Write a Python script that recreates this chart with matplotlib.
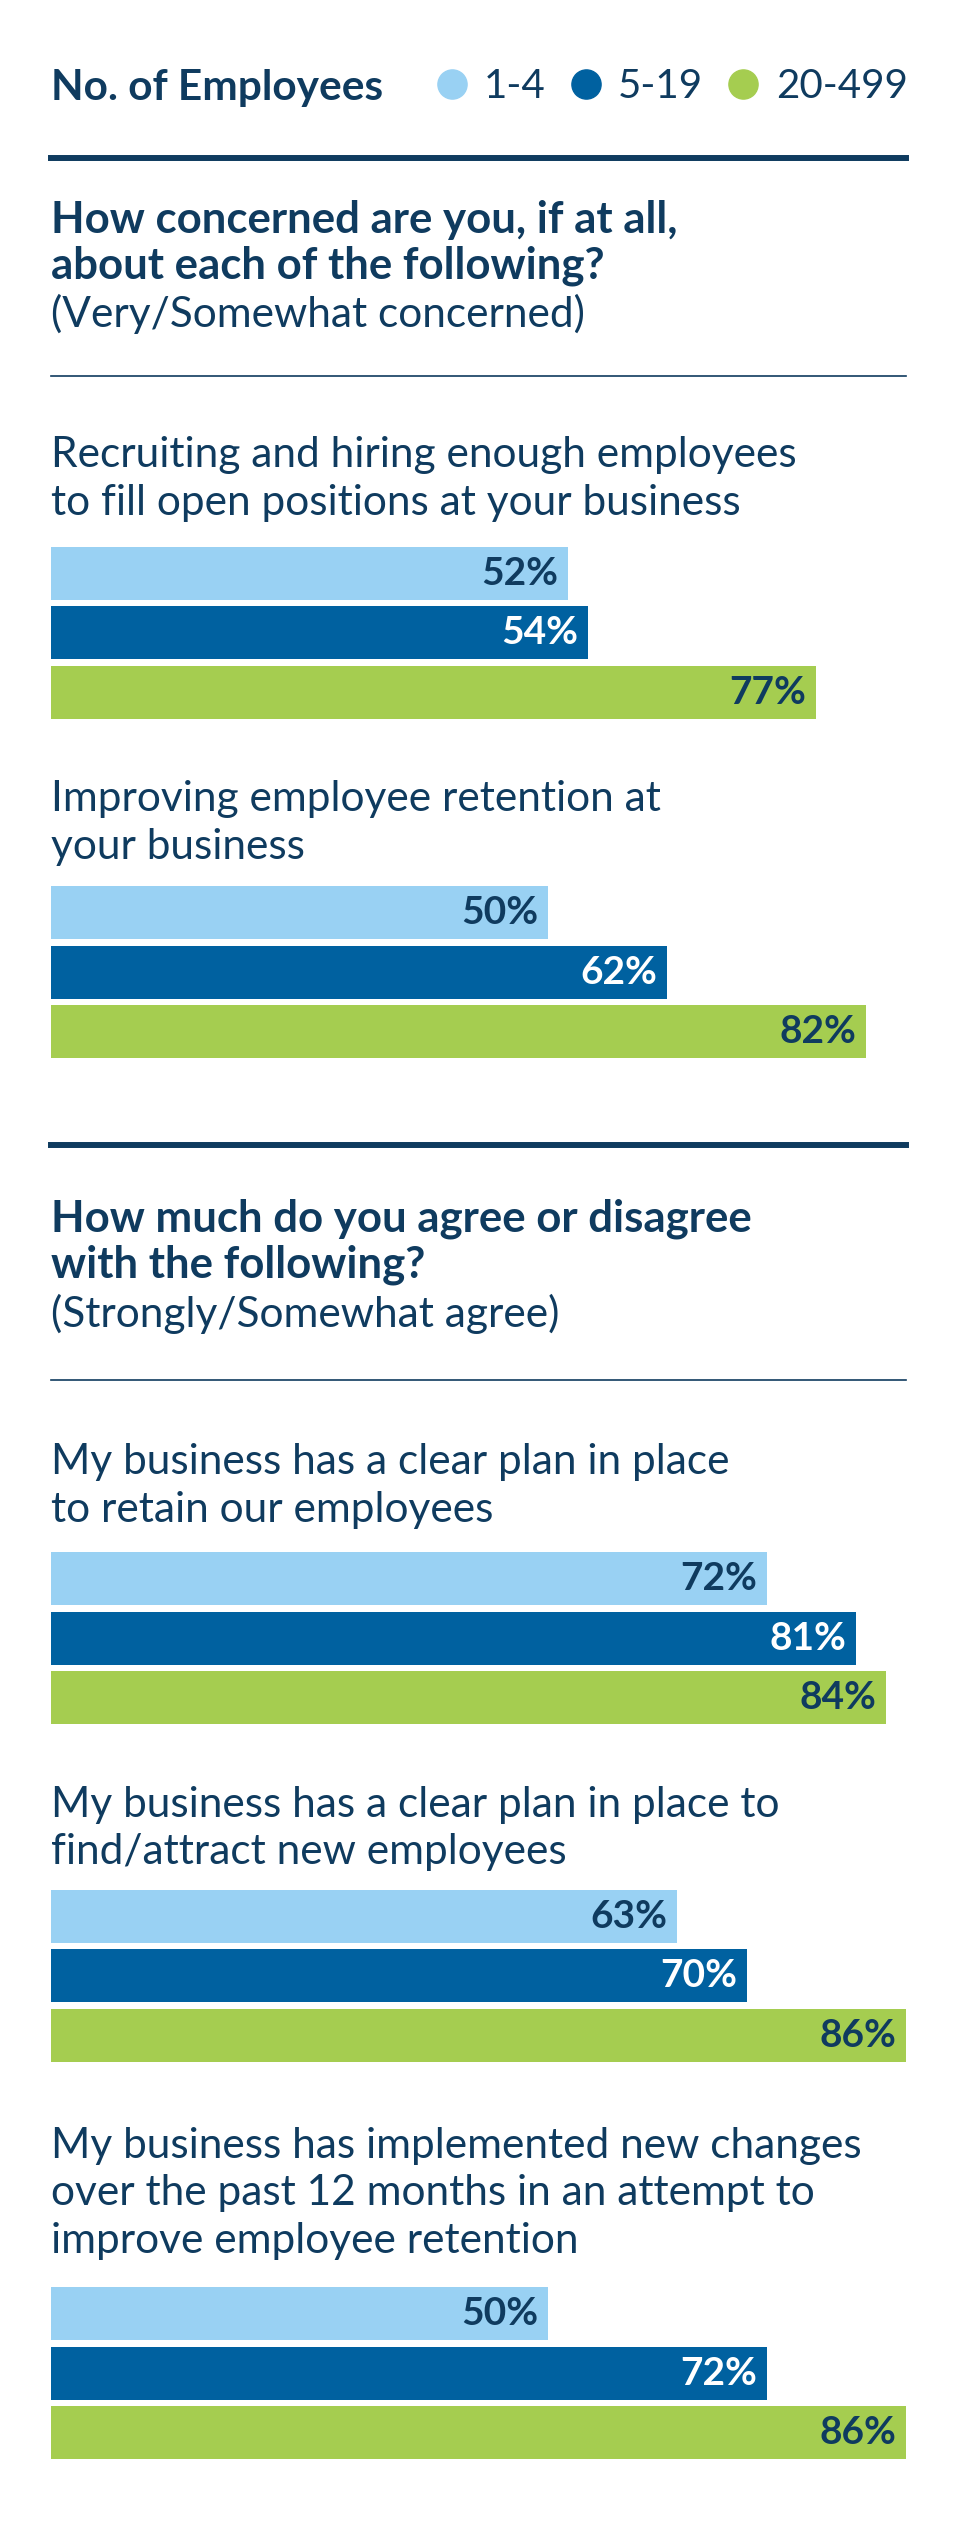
import matplotlib.pyplot as plt
from matplotlib.lines import Line2D

# ---- data
series = ["1-4", "5-19", "20-499"]
colors = ["#99D1F3", "#0061A0", "#A5CD50"]
label_colors = ["#0F3B5F", "white", "#0F3B5F"]

sections = [
    ("How concerned are you, if at all,\nabout each of the following?", "(Very/Somewhat concerned)"),
    ("How much do you agree or disagree\nwith the following?", "(Strongly/Somewhat agree)"),
]

questions = [
    "Recruiting and hiring enough employees\nto fill open positions at your business",
    "Improving employee retention at\nyour business",
    "My business has a clear plan in place\nto retain our employees",
    "My business has a clear plan in place to\nfind/attract new employees",
    "My business has implemented new changes\nover the past 12 months in an attempt to\nimprove employee retention",
]
small_1_4 = [52, 50, 72, 63, 50]
small_5_19 = [54, 62, 81, 70, 72]
mid_20_499 = [77, 82, 84, 86, 86]

NAVY = "#0F3B5F"
FONT = "Lato"
BODY = 30.5
HEAD = 31.5
LEG = 29
PCT = 28

# layout in reference pixels (603 x 1568 grid)
W, H = 603.0, 1568.0
LEFT, RIGHT = 32, 563
fx = lambda x: x / W
fy = lambda y: 1 - y / H

section_y = [(98, 137, 195, 234), (712, 758, 817, 858)]
question_y = [(283, 356.5), (497, 567.5), (909, 981.5), (1122, 1191.5), (1334, 1438.5)]
LINE_STEP = 29.5
BAR_STEP = 37

fig = plt.figure(figsize=(9.7, 25.22), dpi=100)
fig.patch.set_facecolor("white")

# ---- legend
fig.text(fx(LEFT), fy(55), "No. of Employees", fontsize=BODY, fontweight="bold",
         color=NAVY, family=FONT, va="center", ha="left")
handles = [Line2D([], [], marker="o", linestyle="none", markersize=21,
                  markerfacecolor=c, markeredgecolor=c) for c in colors]
leg = fig.legend(handles, series, loc="center right", bbox_to_anchor=(fx(RIGHT) + 0.002, fy(54)),
                 ncol=3, frameon=False, borderaxespad=0, borderpad=0, handletextpad=0.35,
                 columnspacing=0.55, handlelength=0.9, prop={"family": FONT, "size": LEG})
for t in leg.get_texts():
    t.set_color(NAVY)

# ---- section headers
for (title, sub), (ythick, ytitle, ysub, ythin) in zip(sections, section_y):
    fig.add_artist(Line2D([fx(LEFT), fx(RIGHT)], [fy(ythick), fy(ythick)], color=NAVY, lw=4.3))
    for i, line in enumerate(title.split("\n")):
        fig.text(fx(LEFT), fy(ytitle + i * 28.5), line, fontsize=HEAD, fontweight="bold",
                 color=NAVY, family=FONT, va="center", ha="left")
    fig.text(fx(LEFT), fy(ysub), sub, fontsize=BODY, color=NAVY, family=FONT, va="center", ha="left")
    fig.add_artist(Line2D([fx(LEFT), fx(RIGHT)], [fy(ythin), fy(ythin)], color=NAVY, lw=1.2))

# ---- bar groups
xmax = max(mid_20_499)
for qi, (q, (ylab, ybar)) in enumerate(zip(questions, question_y)):
    for i, line in enumerate(q.split("\n")):
        fig.text(fx(LEFT), fy(ylab + i * LINE_STEP), line, fontsize=BODY, color=NAVY,
                 family=FONT, va="center", ha="left")
    top = ybar - BAR_STEP / 2
    bottom = top + 3 * BAR_STEP
    ax = fig.add_axes([fx(LEFT), fy(bottom), fx(RIGHT) - fx(LEFT), (bottom - top) / H])
    vals = [small_1_4[qi], small_5_19[qi], mid_20_499[qi]]
    ax.barh(range(3), vals, height=33 / 37, color=colors)
    for j, v in enumerate(vals):
        ax.annotate(f"{v}%", xy=(v, j), xytext=(-7, 0), textcoords="offset points",
                    ha="right", va="center", fontsize=PCT, fontweight="bold",
                    color=label_colors[j], family=FONT)
    ax.set_xlim(0, xmax)
    ax.set_ylim(2.5, -0.5)
    ax.axis("off")

fig.savefig("out.png", dpi=100, facecolor="white")
